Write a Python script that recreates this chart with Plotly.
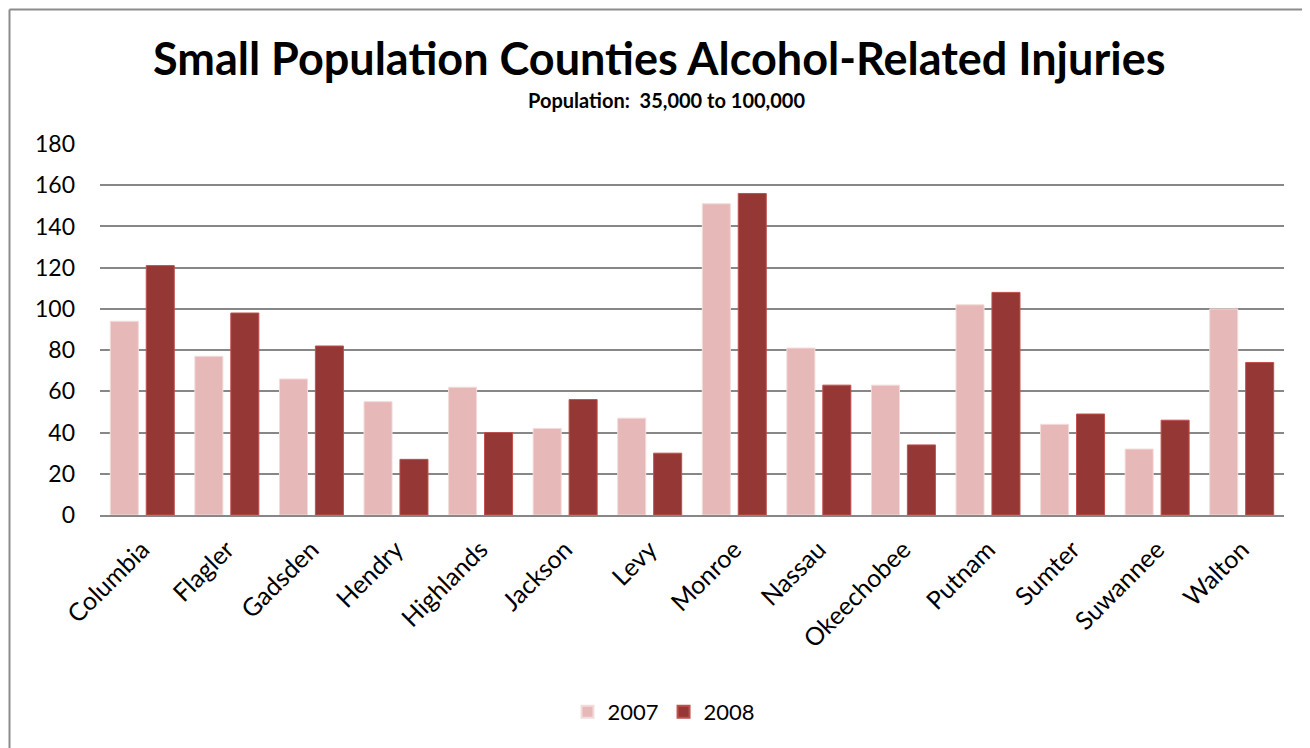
import plotly.graph_objects as go

counties = ["Columbia", "Flagler", "Gadsden", "Hendry", "Highlands", "Jackson", "Levy",
            "Monroe", "Nassau", "Okeechobee", "Putnam", "Sumter", "Suwannee", "Walton"]
values_2007 = [94, 77, 66, 55, 62, 42, 47, 151, 81, 63, 102, 44, 32, 100]
values_2008 = [121, 98, 82, 27, 40, 56, 30, 156, 63, 34, 108, 49, 46, 74]
y_ticks = [0, 20, 40, 60, 80, 100, 120, 140, 160, 180]

FONT = "Lato"
W, H = 1310, 748
OFF = 8  # page body margin offset
# plot area in screen pixels (reference)
SL, SR, ST, SB = 100, 1284, 144, 515
L, R, T, B = SL - OFF, SR - OFF, ST - OFF, SB - OFF


def px_x(p):
    return (p - SL) / (SR - SL)


def px_y(p):
    return (SB - p) / (SB - ST)


fig = go.Figure()
fig.add_trace(go.Bar(name="2007", x=counties, y=values_2007,
                     marker=dict(color="#E6B8B7", line=dict(color="#F2DCDB", width=1))))
fig.add_trace(go.Bar(name="2008", x=counties, y=values_2008,
                     marker=dict(color="#953735", line=dict(color="#C0504D", width=1))))

fig.update_layout(
    width=W, height=H,
    margin=dict(l=L, r=W - R, t=T, b=H - B),
    paper_bgcolor="white", plot_bgcolor="white",
    barmode="group", bargap=0.15, bargroupgap=0.22,
    font=dict(family=FONT, color="black", size=22),
    showlegend=True,
    legend=dict(orientation="h", x=px_x(664), xanchor="center", y=px_y(712), yanchor="middle",
                font=dict(size=22, family=FONT), itemsizing="constant", traceorder="normal"),
    xaxis=dict(tickangle=-45, showgrid=False, showline=True, linecolor="#878787", linewidth=2,
               tickfont=dict(size=25, family=FONT), ticks="", ticklabelstandoff=8),
    yaxis=dict(range=[0, 180], tickvals=y_ticks, showgrid=True, gridcolor="#878787", gridwidth=2,
               zeroline=False, showline=False, tickfont=dict(size=23, family=FONT),
               ticks="", ticklabelstandoff=24),
    annotations=[
        dict(text="<b>Small Population Counties Alcohol-Related Injuries</b>", xref="paper", yref="paper",
             x=px_x(659), y=px_y(58), xanchor="center", yanchor="middle", showarrow=False,
             font=dict(size=45, family=FONT, color="black")),
        dict(text="<b>Population:  35,000 to 100,000</b>", xref="paper", yref="paper",
             x=px_x(666), y=px_y(100), xanchor="center", yanchor="middle", showarrow=False,
             font=dict(size=20, family=FONT, color="black")),
    ],
    shapes=[
        dict(type="line", xref="paper", yref="paper", x0=px_x(9.5), x1=px_x(9.5), y0=px_y(9.5), y1=px_y(800),
             line=dict(color="#8C8C8C", width=2)),
        dict(type="line", xref="paper", yref="paper", x0=px_x(9.5), x1=px_x(1400), y0=px_y(9.5), y1=px_y(9.5),
             line=dict(color="#8C8C8C", width=2)),
    ],
)

fig.write_html("out.html")
